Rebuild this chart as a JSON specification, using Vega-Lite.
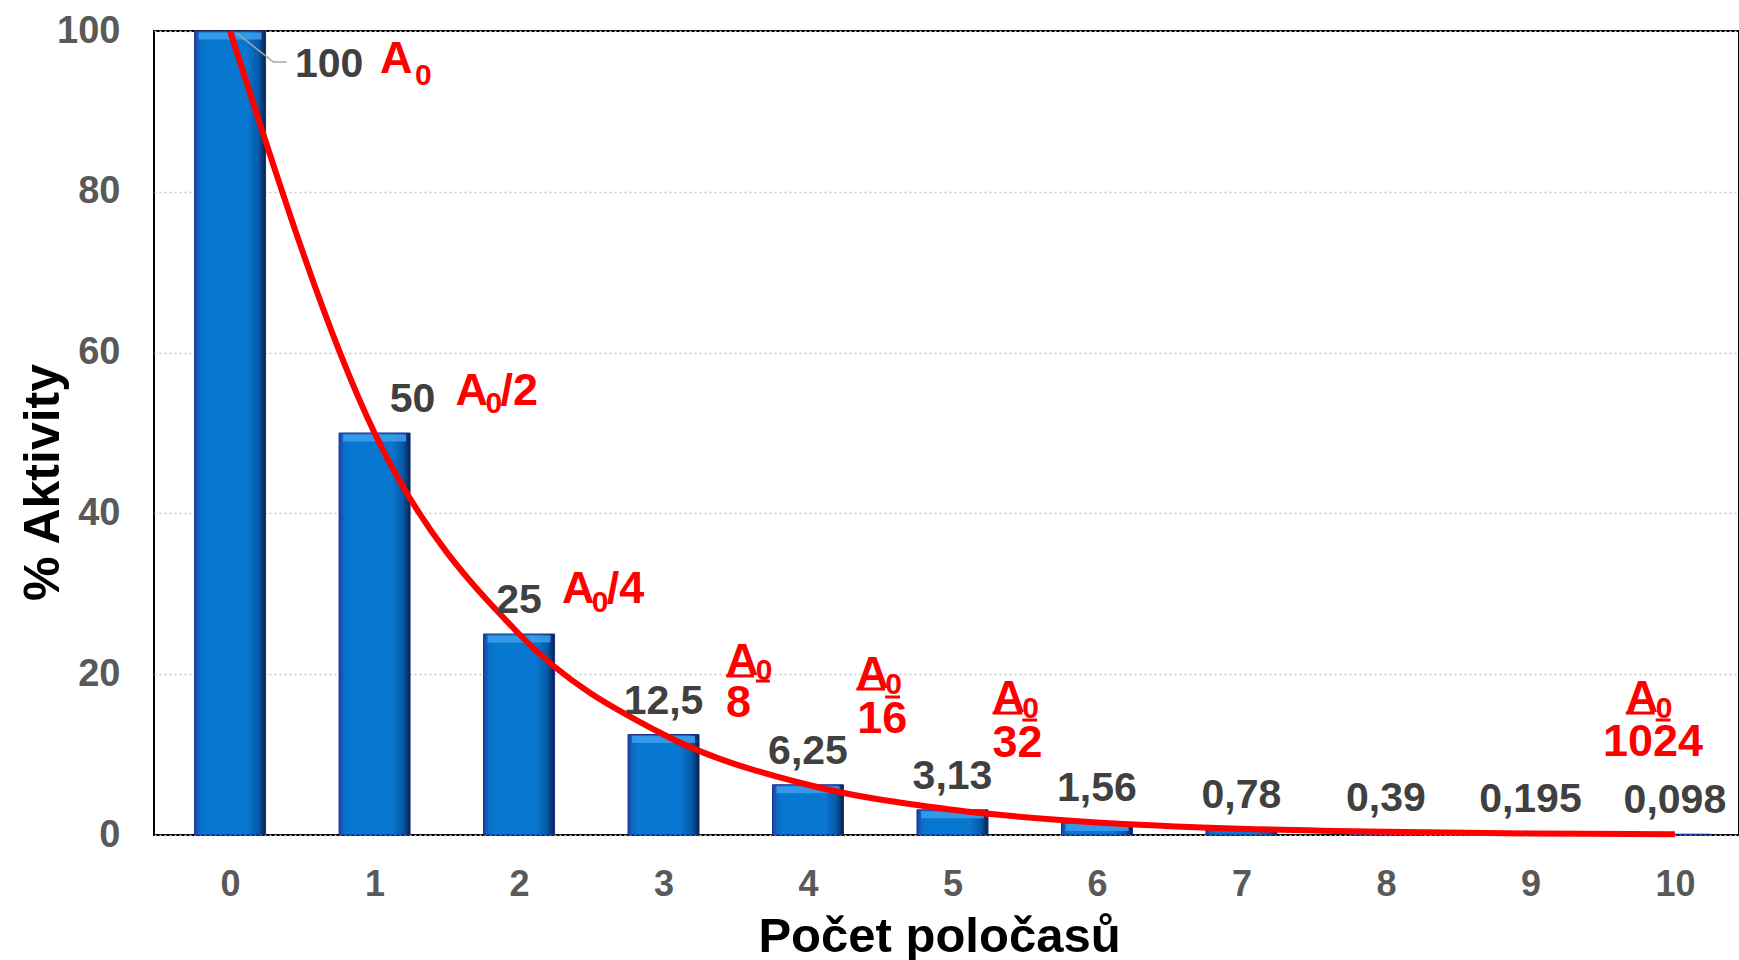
{
  "$schema": "https://vega.github.io/schema/vega-lite/v6.json",
  "width": 1585,
  "height": 804,
  "autosize": {"type": "none"},
  "padding": {"left": 154, "top": 31, "right": 0, "bottom": 125},
  "background": "#ffffff",
  "config": {
    "font": "Liberation Sans",
    "view": {"stroke": "#000000", "strokeWidth": 2}
  },
  "datasets": {
    "aktivita": [
      {"n": 0, "v": 100, "label": "100"},
      {"n": 1, "v": 50, "label": "50"},
      {"n": 2, "v": 25, "label": "25"},
      {"n": 3, "v": 12.5, "label": "12,5"},
      {"n": 4, "v": 6.25, "label": "6,25"},
      {"n": 5, "v": 3.13, "label": "3,13"},
      {"n": 6, "v": 1.56, "label": "1,56"},
      {"n": 7, "v": 0.78, "label": "0,78"},
      {"n": 8, "v": 0.39, "label": "0,39"},
      {"n": 9, "v": 0.195, "label": "0,195"},
      {"n": 10, "v": 0.098, "label": "0,098"}
    ],
    "zlomky": [
      {"n": 1.038, "v": 94.78, "text": "A", "part": "main"},
      {"n": 1.279, "v": 93.28, "text": "0", "part": "sub"},
      {"n": 1.561, "v": 53.48, "text": "A", "part": "main"},
      {"n": 1.768, "v": 52.49, "text": "0", "part": "sub"},
      {"n": 1.871, "v": 53.48, "text": "/2", "part": "main"},
      {"n": 2.297, "v": 28.86, "text": "A", "part": "main"},
      {"n": 2.504, "v": 27.74, "text": "0", "part": "sub"},
      {"n": 2.607, "v": 28.86, "text": "/4", "part": "main"},
      {"n": 3.433, "v": 19.9, "text": "A", "part": "main"},
      {"n": 3.639, "v": 19.28, "text": "0", "part": "sub"},
      {"n": 3.433, "v": 14.68, "text": "8", "part": "main"},
      {"n": 4.334, "v": 18.28, "text": "A", "part": "main"},
      {"n": 4.534, "v": 17.54, "text": "0", "part": "sub"},
      {"n": 4.341, "v": 12.69, "text": "16", "part": "main"},
      {"n": 5.277, "v": 15.3, "text": "A", "part": "main"},
      {"n": 5.483, "v": 14.55, "text": "0", "part": "sub"},
      {"n": 5.277, "v": 9.7, "text": "32", "part": "main"},
      {"n": 9.66, "v": 15.3, "text": "A", "part": "main"},
      {"n": 9.867, "v": 14.55, "text": "0", "part": "sub"},
      {"n": 9.502, "v": 9.83, "text": "1024", "part": "main"}
    ],
    "podtrzeni": [
      {"n": 3.433, "n2": 3.626, "v": 19.78},
      {"n": 3.639, "n2": 3.736, "v": 19.15},
      {"n": 4.334, "n2": 4.534, "v": 18.16},
      {"n": 4.534, "n2": 4.637, "v": 17.16},
      {"n": 5.277, "n2": 5.483, "v": 15.17},
      {"n": 5.483, "n2": 5.586, "v": 14.3},
      {"n": 9.66, "n2": 9.86, "v": 15.17},
      {"n": 9.867, "n2": 9.97, "v": 14.3}
    ],
    "odkaz": [
      {"n": 0.045, "v": 99.75},
      {"n": 0.3, "v": 96.14},
      {"n": 0.39, "v": 96.14}
    ]
  },
  "layer": [
    {
      "data": {"name": "aktivita"},
      "mark": {
        "type": "bar",
        "width": 71,
        "stroke": "#1a2f8a",
        "strokeWidth": 1,
        "fill": {
          "gradient": "linear",
          "x1": 0, "y1": 0, "x2": 1, "y2": 0,
          "stops": [
            {"offset": 0, "color": "#2040a8"},
            {"offset": 0.07, "color": "#0a6cc4"},
            {"offset": 0.14, "color": "#0877cf"},
            {"offset": 0.74, "color": "#0877cf"},
            {"offset": 0.9, "color": "#0758a8"},
            {"offset": 1, "color": "#0a1f4a"}
          ]
        }
      },
      "encoding": {
        "x": {
          "field": "n",
          "type": "quantitative",
          "scale": {"domain": [-0.492, 10.409], "nice": false, "zero": false},
          "axis": {
            "values": [0, 1, 2, 3, 4, 5, 6, 7, 8, 9, 10],
            "format": "d",
            "title": "Počet poločasů",
            "grid": false,
            "ticks": false,
            "domain": false,
            "labelFont": "Liberation Sans",
            "labelFontSize": 36,
            "labelFontWeight": "bold",
            "labelColor": "#595959",
            "labelPadding": 60,
            "labelBaseline": "alphabetic",
            "labelFlush": false,
            "titleFont": "Liberation Sans",
            "titleFontSize": 49,
            "titleFontWeight": "bold",
            "titleColor": "#000000",
            "titleX": 785,
            "titleY": 116,
            "titleAlign": "center",
            "titleBaseline": "alphabetic"
          }
        },
        "y": {
          "field": "v",
          "type": "quantitative",
          "scale": {"domain": [0, 100], "nice": false},
          "axis": {
            "values": [0, 20, 40, 60, 80, 100],
            "title": "% Aktivity",
            "grid": true,
            "gridDash": [2, 3],
            "gridColor": "#c8c8c8",
            "gridWidth": 1.5,
            "ticks": false,
            "domain": false,
            "labelFont": "Liberation Sans",
            "labelFontSize": 38,
            "labelFontWeight": "bold",
            "labelColor": "#595959",
            "labelPadding": 34,
            "labelBaseline": "middle",
            "labelFlush": false,
            "titleFont": "Liberation Sans",
            "titleFontSize": 50,
            "titleFontWeight": "bold",
            "titleColor": "#000000",
            "titleX": -96,
            "titleY": 451,
            "titleAngle": 270,
            "titleAlign": "center",
            "titleBaseline": "alphabetic"
          }
        }
      }
    },
    {
      "data": {"name": "aktivita"},
      "transform": [{"filter": "datum.v >= 1.5"}],
      "mark": {"type": "tick", "orient": "horizontal", "size": 63, "thickness": 7, "color": "#3d9fec", "yOffset": 5, "opacity": 0.85},
      "encoding": {
        "x": {"field": "n", "type": "quantitative"},
        "y": {"field": "v", "type": "quantitative"}
      }
    },
    {
      "data": {"name": "aktivita"},
      "mark": {"type": "line", "interpolate": "monotone", "color": "#ff0000", "strokeWidth": 6},
      "encoding": {
        "x": {"field": "n", "type": "quantitative"},
        "y": {"field": "v", "type": "quantitative"},
        "order": {"field": "n", "type": "quantitative"}
      }
    },
    {
      "data": {"name": "odkaz"},
      "mark": {"type": "line", "color": "#a6a6a6", "strokeWidth": 1.5},
      "encoding": {
        "x": {"field": "n", "type": "quantitative"},
        "y": {"field": "v", "type": "quantitative"}
      }
    },
    {
      "data": {"name": "aktivita"},
      "transform": [{"filter": "datum.n >= 2"}],
      "mark": {"type": "text", "align": "center", "baseline": "alphabetic", "dy": -21, "fontSize": 41, "fontWeight": "bold", "color": "#404040", "font": "Liberation Sans"},
      "encoding": {
        "x": {"field": "n", "type": "quantitative"},
        "y": {"field": "v", "type": "quantitative"},
        "text": {"field": "label"}
      }
    },
    {
      "data": {"name": "aktivita"},
      "transform": [{"filter": "datum.n == 1"}],
      "mark": {"type": "text", "align": "center", "baseline": "alphabetic", "dx": 38, "dy": -21, "fontSize": 41, "fontWeight": "bold", "color": "#404040", "font": "Liberation Sans"},
      "encoding": {
        "x": {"field": "n", "type": "quantitative"},
        "y": {"field": "v", "type": "quantitative"},
        "text": {"field": "label"}
      }
    },
    {
      "data": {"name": "aktivita"},
      "transform": [{"filter": "datum.n == 0"}],
      "mark": {"type": "text", "align": "center", "baseline": "alphabetic", "dx": 99, "dy": 46, "fontSize": 41, "fontWeight": "bold", "color": "#404040", "font": "Liberation Sans"},
      "encoding": {
        "x": {"field": "n", "type": "quantitative"},
        "y": {"field": "v", "type": "quantitative"},
        "text": {"field": "label"}
      }
    },
    {
      "data": {"name": "zlomky"},
      "transform": [{"filter": "datum.part == 'main'"}],
      "mark": {"type": "text", "align": "left", "baseline": "alphabetic", "fontSize": 45, "fontWeight": "bold", "color": "#ff0000", "font": "Liberation Sans"},
      "encoding": {
        "x": {"field": "n", "type": "quantitative"},
        "y": {"field": "v", "type": "quantitative"},
        "text": {"field": "text"}
      }
    },
    {
      "data": {"name": "zlomky"},
      "transform": [{"filter": "datum.part == 'sub'"}],
      "mark": {"type": "text", "align": "left", "baseline": "alphabetic", "fontSize": 30, "fontWeight": "bold", "color": "#ff0000", "font": "Liberation Sans"},
      "encoding": {
        "x": {"field": "n", "type": "quantitative"},
        "y": {"field": "v", "type": "quantitative"},
        "text": {"field": "text"}
      }
    },
    {
      "data": {"name": "podtrzeni"},
      "mark": {"type": "rule", "color": "#ff0000", "strokeWidth": 3},
      "encoding": {
        "x": {"field": "n", "type": "quantitative"},
        "x2": {"field": "n2"},
        "y": {"field": "v", "type": "quantitative"}
      }
    }
  ]
}
